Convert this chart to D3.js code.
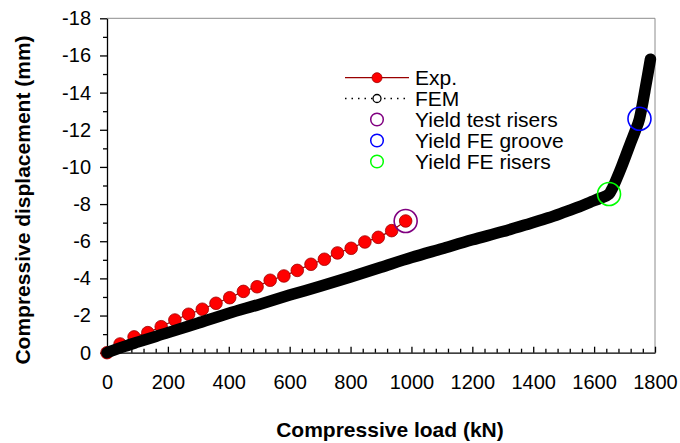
<!DOCTYPE html>
<html>
<head>
<meta charset="utf-8">
<script src="https://cdn.jsdelivr.net/npm/d3@7"></script>
<style>
  body { margin: 0; background: #fff; }
  svg text { font-family: "Liberation Sans", Arial, sans-serif; fill: #000; }
</style>
</head>
<body>
<div id="chart"></div>
<script>
// ---- data ----
// experiment: load (kN) and displacement (mm)
var expLoad = [0, 43, 89, 134, 178, 223, 268, 313, 358, 403, 448, 493, 536, 581,
               625, 670, 714, 757, 802, 847, 891, 935, 981];
var expDisp = [0, -0.47, -0.85, -1.08, -1.40, -1.76, -2.07, -2.34, -2.66, -2.96, -3.30, -3.55, -3.90, -4.13,
               -4.43, -4.76, -5.03, -5.37, -5.62, -5.96, -6.21, -6.57, -7.09];

// finite element result
var femLoad = [0, 50, 100, 200, 300, 400, 500, 600, 700, 800, 900, 1000, 1100, 1200,
               1300, 1390, 1450, 1500, 1550, 1587, 1620, 1649, 1660, 1675, 1690, 1705, 1720, 1735, 1749,
               1758, 1767, 1776, 1785];
var femDisp = [0, -0.30, -0.57, -1.08, -1.60, -2.12, -2.60, -3.10, -3.58, -4.08, -4.60, -5.12, -5.60, -6.08,
               -6.52, -6.96, -7.26, -7.55, -7.85, -8.10, -8.32, -8.54, -8.85, -9.40, -10.0, -10.65, -11.3, -11.93, -12.59,
               -13.3, -14.12, -14.95, -15.8];

// yield markers
var yieldNames = ["Yield test risers", "Yield FE groove", "Yield FE risers"];
var yieldLoad = [981, 1749, 1649];
var yieldDisp = [-7.09, -12.59, -8.54];
var yieldColors = ["#800080", "#0000ff", "#00ff00"];

var xTicks = [0, 200, 400, 600, 800, 1000, 1200, 1400, 1600, 1800];
var yTicks = [0, -2, -4, -6, -8, -10, -12, -14, -16, -18];

// ---- layout ----
// (window.top is reserved, so the plot edges get their own names)
var width = 680, height = 443;
var plotLeft = 107, plotRight = 655, plotTop = 18.3, plotBottom = 352.7;

var svg = d3.select("#chart").append("svg")
  .attr("width", width)
  .attr("height", height);

var x = d3.scaleLinear().domain([0, 1800]).range([plotLeft, plotRight]);
var y = d3.scaleLinear().domain([0, -18]).range([plotBottom, plotTop]);

// grey frame on top and right
svg.append("path")
  .attr("d", "M" + plotLeft + "," + plotTop + "H" + plotRight + "V" + plotBottom)
  .attr("fill", "none")
  .attr("stroke", "#8c8c8c")
  .attr("stroke-width", 1);

// y axis: outward ticks, minor every 1 mm
var yMinor = d3.range(-1, -18, -2);
svg.append("g")
  .attr("transform", "translate(" + plotLeft + ",0)")
  .call(d3.axisLeft(y).tickValues(yMinor).tickSize(4).tickFormat(""))
  .call(g => g.select(".domain").remove());
var yAxis = svg.append("g")
  .attr("transform", "translate(" + plotLeft + ",0)")
  .call(d3.axisLeft(y).tickValues(yTicks).tickSize(7).tickSizeOuter(0).tickPadding(9)
    .tickFormat(d => String(d)));
yAxis.selectAll("text").style("font-size", "20px");

// x axis: inward ticks, minor every 40 kN
var xMinor = d3.range(40, 1800, 40).filter(d => d % 200 != 0);
svg.append("g")
  .attr("transform", "translate(0," + plotBottom + ")")
  .call(d3.axisBottom(x).tickValues(xMinor).tickSize(-4).tickFormat(""))
  .call(g => g.select(".domain").remove());
var xAxis = svg.append("g")
  .attr("transform", "translate(0," + plotBottom + ")")
  .call(d3.axisBottom(x).tickValues(xTicks).tickSizeInner(-6).tickSizeOuter(0).tickPadding(22)
    .tickFormat(d => String(d)));
xAxis.selectAll("text").style("font-size", "20px");

svg.selectAll(".domain, .tick line").attr("stroke", "#000").attr("stroke-width", 1.3);

// axis titles
svg.append("text")
  .attr("x", 390)
  .attr("y", 437)
  .attr("text-anchor", "middle")
  .style("font-size", "21px")
  .style("font-weight", "bold")
  .text("Compressive load (kN)");

svg.append("text")
  .attr("transform", "translate(30,200) rotate(-90)")
  .attr("text-anchor", "middle")
  .style("font-size", "21px")
  .style("font-weight", "bold")
  .text("Compressive displacement (mm)");

// experiment series
var expPts = expLoad.map((d, i) => [d, expDisp[i]]);
var line = d3.line().x(d => x(d[0])).y(d => y(d[1]));

svg.append("path")
  .attr("d", line(expPts))
  .attr("fill", "none")
  .attr("stroke", "#990000")
  .attr("stroke-width", 1.2);

svg.selectAll(".exp")
  .data(expPts)
  .enter().append("circle")
  .attr("class", "exp")
  .attr("cx", d => x(d[0]))
  .attr("cy", d => y(d[1]))
  .attr("r", 6.3)
  .attr("fill", "#ff0000")
  .attr("stroke", "#a00000")
  .attr("stroke-width", 0.8);

// FEM series, dense markers merge into a thick band
var femPts = femLoad.map((d, i) => [d, femDisp[i]]);
svg.append("path")
  .attr("d", d3.line().curve(d3.curveMonotoneX).x(d => x(d[0])).y(d => y(d[1]))(femPts))
  .attr("fill", "none")
  .attr("stroke", "#000")
  .attr("stroke-width", 11.5)
  .attr("stroke-linecap", "round")
  .attr("stroke-linejoin", "round");

// yield circles
svg.selectAll(".yield")
  .data(yieldLoad)
  .enter().append("circle")
  .attr("class", "yield")
  .attr("cx", d => x(d))
  .attr("cy", (d, i) => y(yieldDisp[i]))
  .attr("r", 11.5)
  .attr("fill", "none")
  .attr("stroke", (d, i) => yieldColors[i])
  .attr("stroke-width", 1.6);

// ---- legend ----
var lx0 = 345, lx1 = 409, lmx = 377, ltx = 415;
var rowY = [77.7, 98.5, 119.5, 140.5, 161.5];
var legend = svg.append("g");

legend.append("line")
  .attr("x1", lx0).attr("x2", lx1).attr("y1", rowY[0]).attr("y2", rowY[0])
  .attr("stroke", "#990000").attr("stroke-width", 1.2);
legend.append("circle")
  .attr("cx", lmx).attr("cy", rowY[0]).attr("r", 5)
  .attr("fill", "#ff0000").attr("stroke", "#a00000").attr("stroke-width", 0.8);

legend.append("line")
  .attr("x1", lx0).attr("x2", lx1).attr("y1", rowY[1]).attr("y2", rowY[1])
  .attr("stroke", "#000").attr("stroke-width", 1.3).attr("stroke-dasharray", "1.5,5");
legend.append("circle")
  .attr("cx", lmx).attr("cy", rowY[1]).attr("r", 4)
  .attr("fill", "#fff").attr("stroke", "#000").attr("stroke-width", 1.3);

var names = ["Exp.", "FEM"].concat(yieldNames);
names.forEach(function(name, i) {
  if (i >= 2) {
    legend.append("circle")
      .attr("cx", lmx).attr("cy", rowY[i]).attr("r", 6.3)
      .attr("fill", "none").attr("stroke", yieldColors[i - 2]).attr("stroke-width", 1.5);
  }
  legend.append("text")
    .attr("x", ltx)
    .attr("y", rowY[i] + 7)
    .style("font-size", "21px")
    .text(name);
});
</script>
</body>
</html>
